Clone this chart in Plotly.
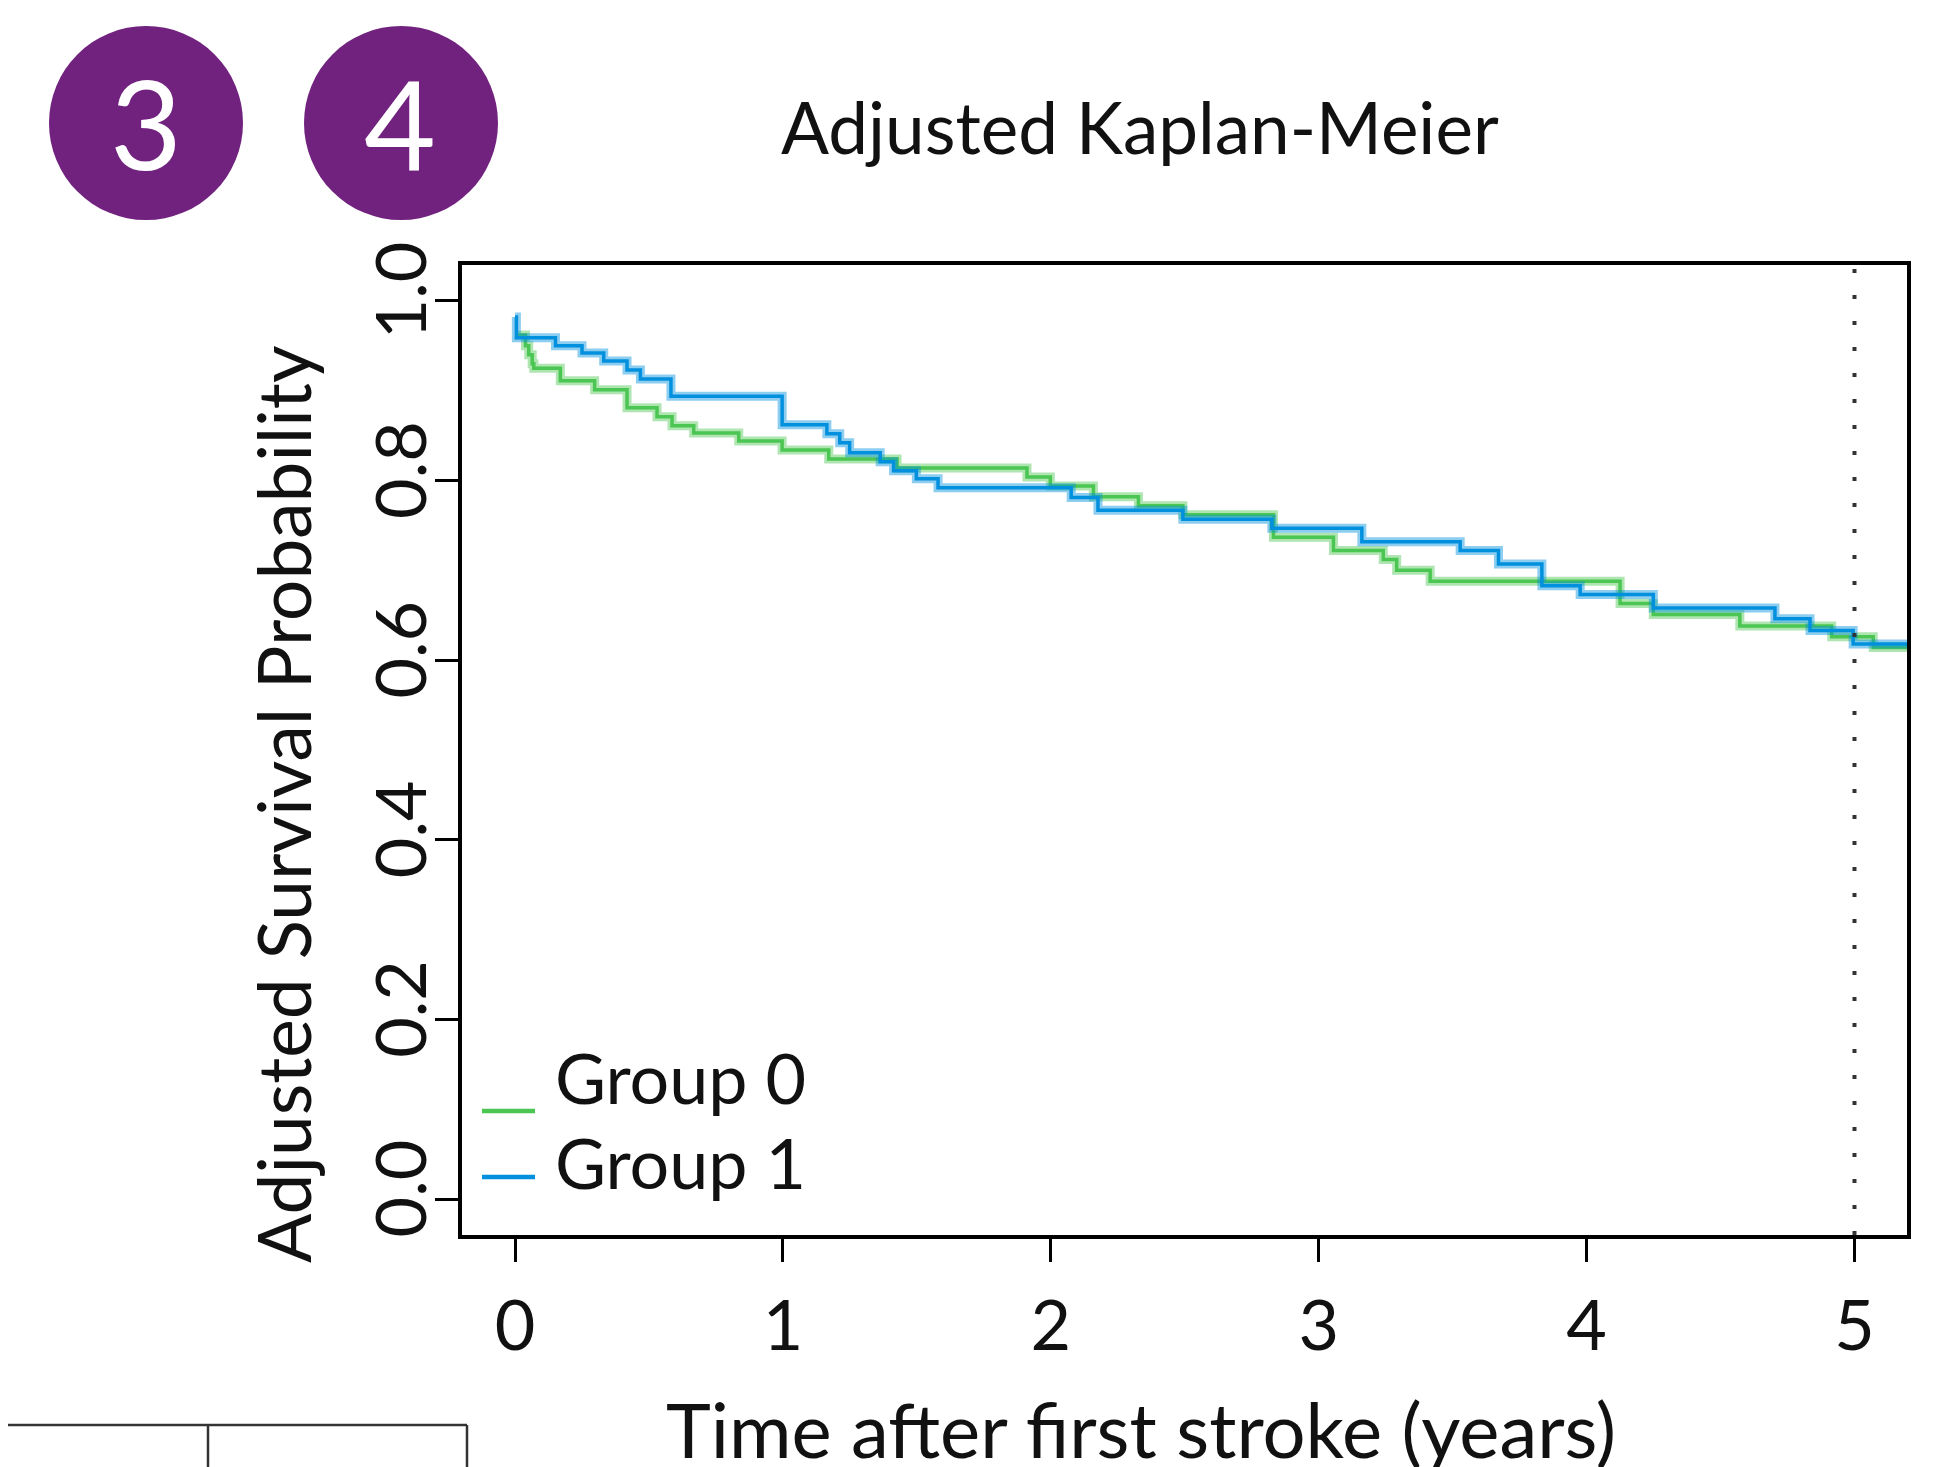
import plotly.graph_objects as go

# ---------------- data ----------------
# step curves: each value holds from its time until the next time
group0_time = [0.0, 0.039, 0.051, 0.064, 0.070, 0.169, 0.297, 0.418, 0.530, 0.586,
               0.667, 0.835, 0.997, 1.171, 1.426, 1.911, 1.998, 2.159, 2.327, 2.493,
               2.831, 3.055, 3.241, 3.291, 3.416, 4.125, 4.249, 4.572, 4.915, 5.070, 5.2]
group0_surv = [0.962, 0.950, 0.940, 0.930, 0.925, 0.911, 0.901, 0.881, 0.871, 0.861,
               0.853, 0.844, 0.834, 0.824, 0.814, 0.804, 0.794, 0.782, 0.772, 0.762,
               0.737, 0.722, 0.712, 0.700, 0.688, 0.663, 0.651, 0.638, 0.626, 0.614, 0.614]

group1_time = [0.0, 0.005, 0.151, 0.250, 0.331, 0.418, 0.468, 0.582, 0.997, 1.164,
               1.212, 1.249, 1.363, 1.413, 1.498, 1.579, 2.076, 2.176, 2.493, 2.825,
               3.161, 3.528, 3.671, 3.833, 3.976, 4.249, 4.703, 4.834, 4.995, 5.2]
group1_surv = [0.982, 0.959, 0.950, 0.942, 0.933, 0.923, 0.913, 0.894, 0.862, 0.852,
               0.842, 0.831, 0.821, 0.811, 0.802, 0.792, 0.781, 0.767, 0.757, 0.747,
               0.732, 0.722, 0.707, 0.683, 0.673, 0.658, 0.646, 0.633, 0.618, 0.618]

group_names = ["Group 0", "Group 1"]
x_tick_values = [0, 1, 2, 3, 4, 5]
y_tick_values = [0.0, 0.2, 0.4, 0.6, 0.8, 1.0]
y_tick_labels = ["0.0", "0.2", "0.4", "0.6", "0.8", "1.0"]
cutoff_year = 5
badge_labels = ["3", "4"]
chart_title = "Adjusted Kaplan-Meier"
x_title = "Time after first stroke (years)"
y_title = "Adjusted Survival Probability"

# ---------------- layout geometry (page pixels) ----------------
OFF = 8                      # default page margin around the figure
PAGE_W, PAGE_H = 1951, 1467
FIG_W, FIG_H = PAGE_W - OFF, PAGE_H - OFF
L, R, T, B = 462, 1907, 265, 1235   # plot box in page pixels
PW, PH = R - L, B - T


def px(x):
    return (x - L) / PW


def py(y):
    return (B - y) / PH


FONT = "Lato, 'Liberation Sans', Arial, sans-serif"
GREEN = "#4BC652"
BLUE = "#0090DD"
GREEN_BAND = "rgba(75,198,82,0.45)"
BLUE_BAND = "rgba(0,144,221,0.45)"
PURPLE = "#71217E"

fig = go.Figure()

series = [
    (group0_time, group0_surv, GREEN, GREEN_BAND, group_names[0]),
    (group1_time, group1_surv, BLUE, BLUE_BAND, group_names[1]),
]
for t, s, col, band, name in series:
    fig.add_trace(go.Scatter(x=t, y=s, mode="lines", name=name + " band",
                             line=dict(shape="hv", width=9, color=band),
                             hoverinfo="skip", showlegend=False))
    fig.add_trace(go.Scatter(x=t, y=s, mode="lines", name=name,
                             line=dict(shape="hv", width=3.5, color=col),
                             showlegend=False))

shapes = []
# dotted cutoff line
shapes.append(dict(type="line", xref="x", yref="paper", x0=cutoff_year, x1=cutoff_year,
                   y0=0, y1=1, line=dict(color="#333333", width=4, dash="4px,22px"),
                   layer="above"))
# badges
for cx in (146, 401):
    shapes.append(dict(type="circle", xref="paper", yref="paper",
                       x0=px(cx - 97), x1=px(cx + 97), y0=py(123 + 97), y1=py(123 - 97),
                       fillcolor=PURPLE, line=dict(width=0), layer="above"))
# legend keys
shapes.append(dict(type="line", xref="paper", yref="paper", x0=px(482), x1=px(535),
                   y0=py(1111), y1=py(1111), line=dict(color=GREEN, width=4.5)))
shapes.append(dict(type="line", xref="paper", yref="paper", x0=px(482), x1=px(535),
                   y0=py(1177), y1=py(1177), line=dict(color=BLUE, width=4.5)))
# table fragment bottom-left
TAB = "#333333"
shapes.append(dict(type="line", xref="paper", yref="paper", x0=px(OFF - 10), x1=px(467),
                   y0=py(1425), y1=py(1425), line=dict(color=TAB, width=2.5)))
for vx in (208, 467):
    shapes.append(dict(type="line", xref="paper", yref="paper", x0=px(vx), x1=px(vx),
                       y0=py(1425), y1=py(1480), line=dict(color=TAB, width=2.5)))

annotations = []


def add_text(text, x, y, size, color="#111111", xanchor="center", angle=0):
    annotations.append(dict(text=text, xref="paper", yref="paper", x=px(x), y=py(y),
                            xanchor=xanchor, yanchor="middle", showarrow=False,
                            textangle=angle,
                            font=dict(family=FONT, size=size, color=color)))


add_text(chart_title, 1140, 126, 71)
add_text(x_title, 1141, 1428, 76)
add_text(y_title, 283, 804, 73, angle=-90)
add_text(group_names[0], 553, 1077, 70, xanchor="left")
add_text(group_names[1], 553, 1162, 70, xanchor="left")
add_text(badge_labels[0], 146, 122, 124, color="white")
add_text(badge_labels[1], 400, 122, 124, color="white")

axis_common = dict(showline=True, linewidth=3.5, linecolor="black", mirror=True,
                   ticks="outside", ticklen=23, tickwidth=3, tickcolor="black",
                   showgrid=False, zeroline=False,
                   tickfont=dict(family=FONT, size=70, color="#111111"))

fig.update_layout(
    width=FIG_W, height=FIG_H,
    margin=dict(l=L - OFF, r=PAGE_W - R, t=T - OFF, b=PAGE_H - B, pad=0),
    paper_bgcolor="white", plot_bgcolor="white",
    xaxis=dict(range=[-0.198, 5.196], tickvals=x_tick_values, ticklabelstandoff=4,
               **axis_common),
    yaxis=dict(range=[-0.04, 1.04], tickvals=y_tick_values, ticktext=y_tick_labels,
               tickangle=-90, ticklabelstandoff=-19, **axis_common),
    shapes=shapes,
    annotations=annotations,
    showlegend=False,
)

fig.write_html("out.html")
